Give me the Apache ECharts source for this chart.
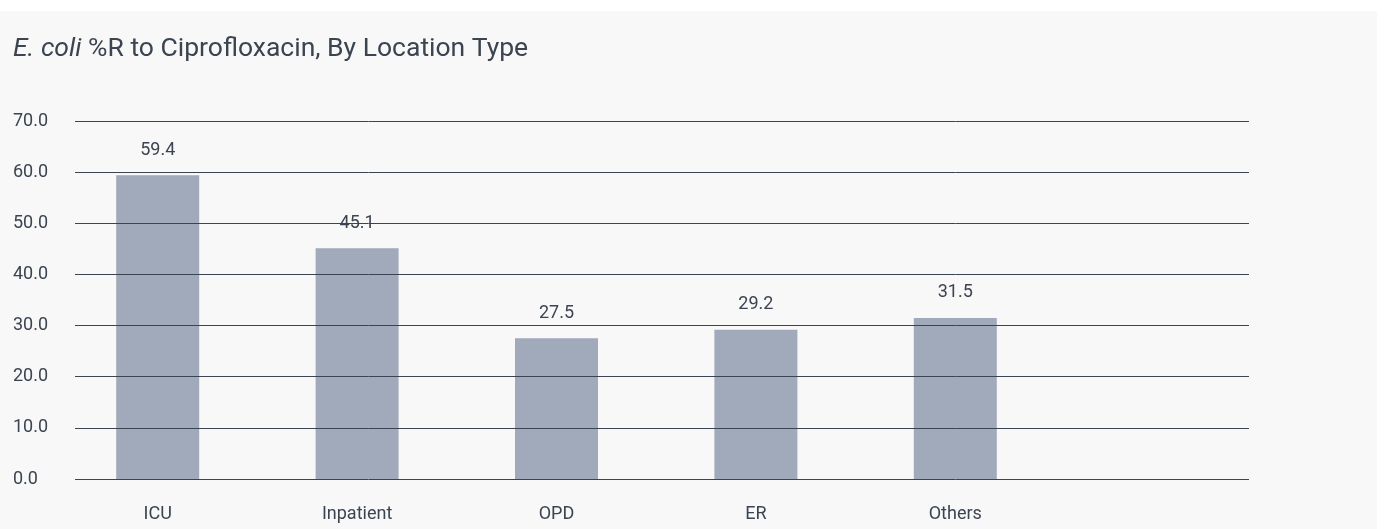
<!DOCTYPE html>
<html>
<head>
<meta charset="utf-8">
<script src="https://cdn.jsdelivr.net/npm/echarts@6/dist/echarts.min.js"></script>
<style>
  html, body { margin: 0; padding: 0; background: #ffffff; }
  #chart { position: absolute; left: 0; top: 11px; width: 1377px; height: 518px; }
</style>
</head>
<body>
<div id="chart"></div>
<script>
// data
var categories = ['ICU', 'Inpatient', 'OPD', 'ER', 'Others'];
var resistance = [59.4, 45.1, 27.5, 29.2, 31.5];
var yTicks = [0, 10, 20, 30, 40, 50, 60, 70];

var textColor = '#3b4450';
var chart = echarts.init(document.getElementById('chart'));

var option = {
  backgroundColor: '#f8f8f8',
  animation: false,
  title: {
    left: 8,
    top: 20,
    text: '{i|E. coli} %R to Ciprofloxacin, By Location Type',
    textStyle: {
      rich: {
        i: { fontStyle: 'italic', fontSize: 26.5, fontFamily: 'Roboto', color: textColor }
      },
      fontSize: 26.5,
      fontWeight: 'normal',
      fontFamily: 'Roboto',
      color: textColor
    }
  },
  grid: [
    // grid for the value axis and its lines
    { left: 75, top: 110, width: 1174, height: 358 },
    // grid for the bars
    { left: 58, top: 110, width: 997, height: 358 }
  ],
  xAxis: [
    { gridIndex: 0, type: 'category', data: categories, show: false },
    {
      gridIndex: 1,
      type: 'category',
      data: categories,
      axisLine: { show: false },
      axisTick: { show: false },
      axisLabel: { margin: 26, fontSize: 18, fontFamily: 'Roboto', color: textColor }
    }
  ],
  yAxis: [
    {
      gridIndex: 0,
      type: 'value',
      z: 5,
      min: yTicks[0],
      max: yTicks[yTicks.length - 1],
      interval: 10,
      axisLine: { show: false },
      axisTick: { show: false },
      splitLine: { lineStyle: { color: '#3a4452', width: 1 } },
      axisLabel: {
        margin: 62,
        align: 'left',
        fontSize: 18,
        fontFamily: 'Roboto',
        color: textColor,
        formatter: function (v) { return v.toFixed(1); }
      }
    },
    {
      gridIndex: 1,
      type: 'value',
      min: yTicks[0],
      max: yTicks[yTicks.length - 1],
      interval: 10,
      show: false,
      splitLine: { show: false }
    }
  ],
  series: [
    {
      type: 'bar',
      xAxisIndex: 1,
      yAxisIndex: 1,
      data: resistance,
      barWidth: 83,
      itemStyle: { color: '#a1aaba' },
      label: {
        show: true,
        position: 'top',
        distance: 16,
        fontSize: 18,
        fontFamily: 'Roboto',
        color: textColor,
        formatter: function (p) { return p.value.toFixed(1); }
      },
      z: 1
    }
  ]
};

chart.setOption(option);
</script>
</body>
</html>
